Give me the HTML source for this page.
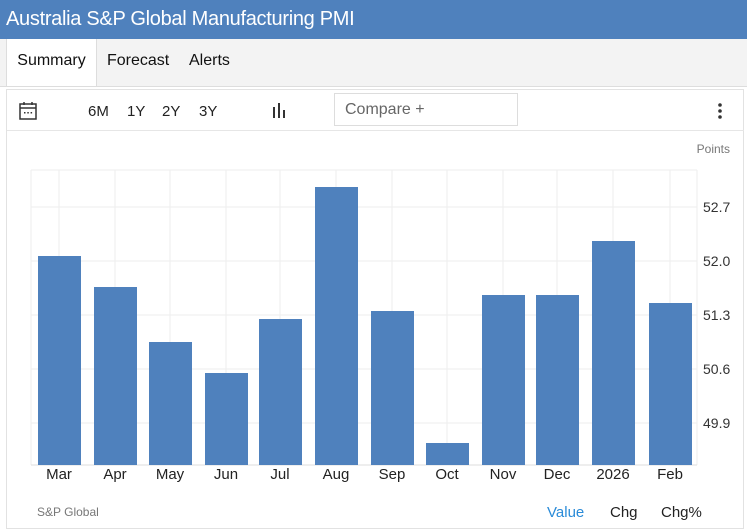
<!DOCTYPE html>
<html><head><meta charset="utf-8"><style>
body{margin:0;width:747px;height:523px;overflow:hidden;background:#fff;font-family:"Liberation Sans",Arial,sans-serif;position:relative}
.hdr{position:absolute;left:0;top:0;width:747px;height:39px;background:#4f81bd;color:#fff;font-size:20px;line-height:39px;padding-left:6px;box-sizing:border-box;letter-spacing:-0.3px}
.tabs{position:absolute;left:0;top:39px;width:747px;height:47px;background:#f3f3f3;border-bottom:1px solid #ddd}
.tab{position:absolute;top:0;height:47px;line-height:44px;font-size:16px;color:#111}
.tab.act{background:#fff;border:1px solid #ddd;border-bottom:none;border-top:none}
.panel{position:absolute;left:6px;top:89px;width:738px;height:440px;border:1px solid #e2e2e2;box-sizing:border-box}
.tool{position:absolute;font-size:15px;color:#222}
.cmp{position:absolute;left:334px;top:93px;width:184px;height:33px;border:1px solid #ddd;box-sizing:border-box;font-size:16px;color:#666;line-height:31px;padding-left:10px}
</style></head><body>
<div class="hdr">Australia S&amp;P Global Manufacturing PMI</div>
<div class="tabs">
<div class="tab act" style="left:6px;width:89px;text-align:center">Summary</div>
<div class="tab" style="left:107px">Forecast</div>
<div class="tab" style="left:189px">Alerts</div>
</div>
<div class="panel"></div>
<div style="position:absolute;left:7px;top:130px;width:737px;height:1px;background:#e6e6e6"></div>
<svg style="position:absolute;left:19px;top:101px" width="18" height="20"><rect x="1" y="3" width="16" height="15" fill="none" stroke="#333" stroke-width="1.5"/><line x1="1" y1="7" x2="17" y2="7" stroke="#333" stroke-width="1.5"/><line x1="5" y1="1" x2="5" y2="4" stroke="#333" stroke-width="1.5"/><line x1="13" y1="1" x2="13" y2="4" stroke="#333" stroke-width="1.5"/><rect x="5" y="11" width="1.5" height="1.5" fill="#333"/><rect x="8.3" y="11" width="1.5" height="1.5" fill="#333"/><rect x="11.6" y="11" width="1.5" height="1.5" fill="#333"/></svg>
<div class="tool" style="left:88px;top:103px">6M</div>
<div class="tool" style="left:127px;top:103px">1Y</div>
<div class="tool" style="left:162px;top:103px">2Y</div>
<div class="tool" style="left:199px;top:103px">3Y</div>
<svg style="position:absolute;left:272px;top:102px" width="16" height="16"><rect x="1" y="5" width="2" height="11" fill="#333"/><rect x="6" y="1" width="2" height="15" fill="#333"/><rect x="11" y="8" width="2" height="8" fill="#333"/></svg>
<div class="cmp">Compare +</div>
<svg style="position:absolute;left:717px;top:103px" width="6" height="16"><circle cx="3" cy="2" r="1.8" fill="#333"/><circle cx="3" cy="8" r="1.8" fill="#333"/><circle cx="3" cy="14" r="1.8" fill="#333"/></svg>
<svg style="position:absolute;left:0;top:0" width="747" height="523" font-family="Liberation Sans,Arial,sans-serif">
<text x="730" y="153" font-size="12" fill="#777" text-anchor="end">Points</text>
<g stroke="#eee" stroke-width="1">
<line x1="31" y1="170" x2="31" y2="465"/><line x1="697" y1="170" x2="697" y2="465"/>
<line x1="59" y1="170" x2="59" y2="465"/><line x1="115" y1="170" x2="115" y2="465"/><line x1="170" y1="170" x2="170" y2="465"/><line x1="226" y1="170" x2="226" y2="465"/><line x1="280" y1="170" x2="280" y2="465"/><line x1="336" y1="170" x2="336" y2="465"/><line x1="392" y1="170" x2="392" y2="465"/><line x1="447" y1="170" x2="447" y2="465"/><line x1="503" y1="170" x2="503" y2="465"/><line x1="557" y1="170" x2="557" y2="465"/><line x1="613" y1="170" x2="613" y2="465"/><line x1="670" y1="170" x2="670" y2="465"/>
<line x1="31" y1="170" x2="697" y2="170"/><line x1="31" y1="207" x2="697" y2="207"/><line x1="31" y1="261" x2="697" y2="261"/><line x1="31" y1="315" x2="697" y2="315"/><line x1="31" y1="369" x2="697" y2="369"/><line x1="31" y1="423" x2="697" y2="423"/>
</g>
<line x1="31" y1="465" x2="697" y2="465" stroke="#ddd"/>
<g fill="#4f81bd">
<rect x="38" y="256" width="43" height="209"/><rect x="94" y="287" width="43" height="178"/><rect x="149" y="342" width="43" height="123"/><rect x="205" y="373" width="43" height="92"/><rect x="259" y="319" width="43" height="146"/><rect x="315" y="187" width="43" height="278"/><rect x="371" y="311" width="43" height="154"/><rect x="426" y="443" width="43" height="22"/><rect x="482" y="295" width="43" height="170"/><rect x="536" y="295" width="43" height="170"/><rect x="592" y="241" width="43" height="224"/><rect x="649" y="303" width="43" height="162"/>
</g>
<g font-size="14" fill="#333">
<text x="703" y="212">52.7</text><text x="703" y="266">52.0</text><text x="703" y="320">51.3</text><text x="703" y="374">50.6</text><text x="703" y="428">49.9</text>
</g>
<g font-size="15" fill="#222" text-anchor="middle">
<text x="59" y="479">Mar</text><text x="115" y="479">Apr</text><text x="170" y="479">May</text><text x="226" y="479">Jun</text><text x="280" y="479">Jul</text><text x="336" y="479">Aug</text><text x="392" y="479">Sep</text><text x="447" y="479">Oct</text><text x="503" y="479">Nov</text><text x="557" y="479">Dec</text><text x="613" y="479">2026</text><text x="670" y="479">Feb</text>
</g>
<text x="37" y="516" font-size="12" fill="#777">S&amp;P Global</text>
<text x="547" y="517" font-size="15" fill="#2a8bd8">Value</text>
<text x="610" y="517" font-size="15" fill="#222">Chg</text>
<text x="661" y="517" font-size="15" fill="#222">Chg%</text>
</svg>
</body></html>
